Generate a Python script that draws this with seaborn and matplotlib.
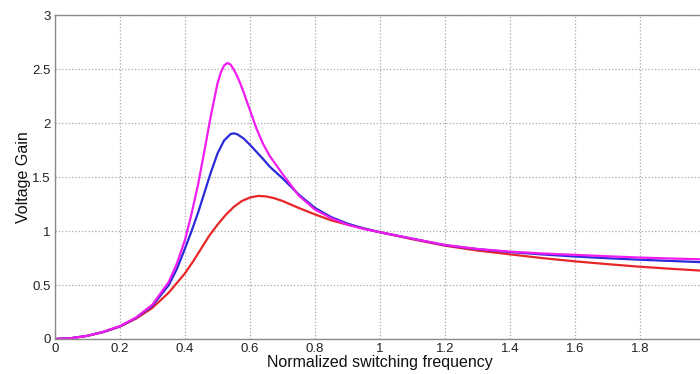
import matplotlib
matplotlib.use("Agg")
import matplotlib.pyplot as plt
import seaborn as sns
import pandas as pd

# Normalized switching frequency (x) and read-off voltage gain values per curve
freq_magenta = [0, 0.05, 0.1, 0.15, 0.2, 0.25, 0.3, 0.35, 0.375, 0.4, 0.42,
                0.44, 0.46, 0.48, 0.5, 0.51, 0.52, 0.53, 0.54, 0.55, 0.56,
                0.57, 0.58, 0.6, 0.62, 0.64, 0.66, 0.7, 0.75, 0.8, 0.85,
                0.9, 0.95, 1.0, 1.1, 1.2, 1.3, 1.4, 1.5, 1.6, 1.7, 1.8, 1.9, 2.0]
gain_magenta = [0, 0.008, 0.03, 0.068, 0.12, 0.2, 0.32, 0.53, 0.7, 0.92, 1.16,
                1.43, 1.75, 2.08, 2.37, 2.47, 2.535, 2.56, 2.545, 2.5, 2.44,
                2.37, 2.29, 2.12, 1.95, 1.81, 1.7, 1.53, 1.33, 1.2, 1.12,
                1.06, 1.02, 0.99, 0.93, 0.872, 0.835, 0.81, 0.793, 0.78,
                0.767, 0.755, 0.746, 0.738]

freq_blue = [0, 0.05, 0.1, 0.15, 0.2, 0.25, 0.3, 0.35, 0.375, 0.4, 0.42,
             0.44, 0.46, 0.48, 0.5, 0.52, 0.54, 0.55, 0.56, 0.58, 0.6, 0.62,
             0.64, 0.66, 0.7, 0.75, 0.8, 0.85, 0.9, 0.95, 1.0, 1.1, 1.2, 1.3,
             1.4, 1.5, 1.6, 1.7, 1.8, 1.9, 2.0]
gain_blue = [0, 0.008, 0.03, 0.067, 0.118, 0.197, 0.31, 0.5, 0.65, 0.84, 1.0,
             1.17, 1.36, 1.55, 1.72, 1.84, 1.9, 1.907, 1.9, 1.86, 1.8, 1.735,
             1.67, 1.6, 1.49, 1.34, 1.215, 1.13, 1.07, 1.025, 0.99, 0.93,
             0.87, 0.833, 0.806, 0.784, 0.765, 0.749, 0.735, 0.723, 0.711]

freq_red = [0, 0.05, 0.1, 0.15, 0.2, 0.25, 0.3, 0.35, 0.4, 0.425, 0.45,
            0.475, 0.5, 0.525, 0.55, 0.575, 0.6, 0.625, 0.65, 0.675, 0.7,
            0.75, 0.8, 0.85, 0.9, 0.95, 1.0, 1.1, 1.2, 1.3, 1.4, 1.5, 1.6,
            1.7, 1.8, 1.9, 2.0]
gain_red = [0, 0.008, 0.029, 0.065, 0.115, 0.19, 0.29, 0.43, 0.61, 0.72,
            0.84, 0.96, 1.06, 1.15, 1.225, 1.28, 1.312, 1.327, 1.322, 1.305,
            1.28, 1.215, 1.155, 1.1, 1.06, 1.025, 0.99, 0.925, 0.865, 0.82,
            0.785, 0.75, 0.72, 0.694, 0.67, 0.65, 0.632]

series_names = ["red", "blue", "magenta"]
series_colors = {"red": "#e8262a", "blue": "#2a2ad8", "magenta": "#f01cf0"}

xticks = [0, 0.2, 0.4, 0.6, 0.8, 1, 1.2, 1.4, 1.6, 1.8, 2]
xticklabels = ["0", "0.2", "0.4", "0.6", "0.8", "1", "1.2", "1.4", "1.6", "1.8", "2"]
yticks = [0, 0.5, 1, 1.5, 2, 2.5, 3]
yticklabels = ["0", "0.5", "1", "1.5", "2", "2.5", "3"]

frames = []
for name, xs, ys in zip(series_names,
                        [freq_red, freq_blue, freq_magenta],
                        [gain_red, gain_blue, gain_magenta]):
    frames.append(pd.DataFrame({"f": xs, "gain": ys, "curve": name}))
df = pd.concat(frames, ignore_index=True)

sns.set_style("white")
plt.rcParams["font.family"] = ["Liberation Sans", "DejaVu Sans"]

fig = plt.figure(figsize=(7.0, 3.74), dpi=100)
ax = fig.add_axes([0.0786, 0.0936, 0.9286, 0.865])

sns.lineplot(data=df, x="f", y="gain", hue="curve", hue_order=series_names,
             palette=series_colors, linewidth=1.6, sort=False, legend=False,
             estimator=None, ax=ax)

ax.set_xlim(0, 2)
ax.set_ylim(0, 3)
ax.set_xticks(xticks)
ax.set_xticklabels(xticklabels)
ax.set_yticks(yticks)
ax.set_yticklabels(yticklabels)
ax.tick_params(direction="in", length=3, width=0.6, colors="#333333",
               labelsize=9.5, pad=3, labelcolor="#222222")
ax.grid(True, linestyle=":", color="#a8a8a8", linewidth=0.9)
for s in ax.spines.values():
    s.set_visible(True)
    s.set_color("#8a8a8a")
    s.set_linewidth(1.0)

ax.set_xlabel("Normalized switching frequency", fontsize=11.5, color="#111111",
              labelpad=0)
ax.set_ylabel("Voltage Gain", fontsize=11.5, color="#111111", labelpad=1)

fig.savefig("out.png", dpi=100)
